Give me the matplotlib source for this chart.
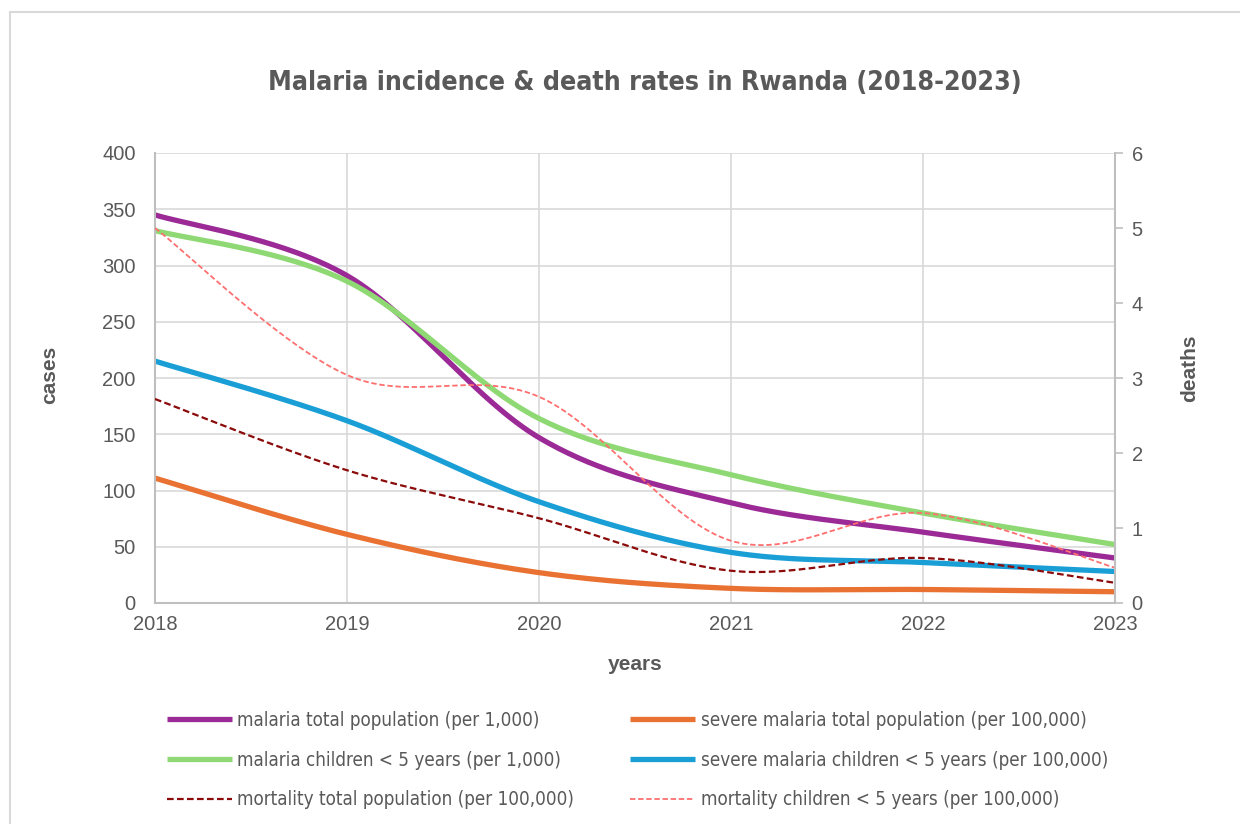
import numpy as np
import matplotlib
matplotlib.use("Agg")
import matplotlib.pyplot as plt
from matplotlib.patches import Rectangle
from matplotlib import font_manager as fm

years = [2018, 2019, 2020, 2021, 2022, 2023]
malaria_total = [345, 291, 147, 89, 63, 40]
malaria_children = [331, 286, 164, 114, 80, 52]
severe_total = [111, 61, 27, 13, 12, 10]
severe_children = [215, 162, 90, 45, 36, 28]
mortality_total = [2.72, 1.77, 1.13, 0.43, 0.60, 0.27]
mortality_children = [5.0, 3.04, 2.75, 0.83, 1.20, 0.47]

labels = [
    "malaria total population (per 1,000)",
    "malaria children < 5 years (per 1,000)",
    "mortality total population (per 100,000)",
    "severe malaria total population (per 100,000)",
    "severe malaria children < 5 years (per 100,000)",
    "mortality children < 5 years (per 100,000)",
]

C_PURPLE = "#9B2A96"
C_GREEN = "#8ED973"
C_ORANGE = "#E97132"
C_BLUE = "#1A9ED6"
C_DRED = "#8B0A0A"
C_LRED = "#FF6F6F"
TXT = "#595959"


def smooth(x, y, n=60):
    """Excel-like smoothed line: cubic Bezier segments with Catmull-Rom control points."""
    x = np.asarray(x, float)
    y = np.asarray(y, float)
    px = np.concatenate([[x[0]], x, [x[-1]]])
    py = np.concatenate([[y[0]], y, [y[-1]]])
    xs, ys = [], []
    t = np.linspace(0, 1, n)
    for i in range(1, len(px) - 2):
        p0 = np.array([px[i], py[i]])
        p3 = np.array([px[i + 1], py[i + 1]])
        c1 = p0 + (np.array([px[i + 1], py[i + 1]]) - np.array([px[i - 1], py[i - 1]])) / 6
        c2 = p3 - (np.array([px[i + 2], py[i + 2]]) - np.array([px[i], py[i]])) / 6
        b = ((1 - t) ** 3)[:, None] * p0 + (3 * (1 - t) ** 2 * t)[:, None] * c1 \
            + (3 * (1 - t) * t ** 2)[:, None] * c2 + (t ** 3)[:, None] * p3
        xs.append(b[:, 0])
        ys.append(b[:, 1])
    return np.concatenate(xs), np.concatenate(ys)


fig = plt.figure(figsize=(12.4, 8.24), dpi=100)
fig.patches.append(Rectangle((10 / 1240, -0.1), 1.2, 1 - 12 / 824 + 0.1,
                             transform=fig.transFigure, fill=False,
                             edgecolor="#D9D9D9", linewidth=1.5, zorder=0))

ax = fig.add_axes([155 / 1240, 1 - 603 / 824, (1115 - 155) / 1240, (603 - 153) / 824])
ax2 = ax.twinx()

lw = 3.8
h1, = ax.plot(*smooth(years, malaria_total), color=C_PURPLE, lw=lw, solid_capstyle="butt")
h2, = ax.plot(*smooth(years, malaria_children), color=C_GREEN, lw=lw, solid_capstyle="butt")
h4, = ax.plot(*smooth(years, severe_total), color=C_ORANGE, lw=lw, solid_capstyle="butt")
h5, = ax.plot(*smooth(years, severe_children), color=C_BLUE, lw=lw, solid_capstyle="butt")
h3, = ax2.plot(*smooth(years, mortality_total), color=C_DRED, lw=1.6, ls=(0, (3, 1.5)))
h6, = ax2.plot(*smooth(years, mortality_children), color=C_LRED, lw=1.3, ls=(0, (3, 1.5)))

ax.set_xlim(2018, 2023)
ax.set_ylim(0, 400)
ax2.set_ylim(0, 6)
ax.set_xticks(years)
ax.set_yticks(range(0, 401, 50))
ax2.set_yticks(range(0, 7))

ax.grid(True, color="#D9D9D9", lw=1.2)
ax.set_axisbelow(True)
ax.spines["top"].set_visible(False)
ax2.spines["top"].set_visible(False)
ax2.spines["left"].set_visible(False)
ax2.spines["bottom"].set_visible(False)
ax.spines["right"].set_visible(False)
ax.spines["left"].set_color("#BFBFBF")
ax.spines["bottom"].set_color("#BFBFBF")
ax2.spines["right"].set_color("#BFBFBF")
for sp in ["left", "bottom"]:
    ax.spines[sp].set_linewidth(1.5)
ax2.spines["right"].set_linewidth(1.5)

ax.tick_params(axis="both", length=0, labelsize=14.5, labelcolor=TXT, pad=9)
ax.tick_params(axis="y", pad=14)
ax2.tick_params(axis="y", length=6, width=1.2, color="#BFBFBF", labelsize=14.5,
                labelcolor=TXT, pad=6)
for lab in ax.get_xticklabels() + ax.get_yticklabels() + ax2.get_yticklabels():
    lab.set_fontfamily("Liberation Sans")

narrow = fm.FontProperties(family="DejaVu Sans", stretch="condensed", weight="bold", size=19.2)
fig.text(645 / 1240, 1 - 83 / 824, "Malaria incidence & death rates in Rwanda (2018-2023)",
         ha="center", va="center", color=TXT, fontproperties=narrow)
fig.text(50 / 1240, 1 - 375 / 824, "cases", rotation=90, ha="center", va="center",
         fontsize=15, fontweight="bold", color=TXT, family="Liberation Sans")
fig.text(1190 / 1240, 1 - 368 / 824, "deaths", rotation=90, ha="center", va="center",
         fontsize=15, fontweight="bold", color=TXT, family="Liberation Sans")
fig.text(635 / 1240, 1 - 665 / 824, "years", ha="center", va="center",
         fontsize=15, fontweight="bold", color=TXT, family="Liberation Sans")

handles = [h1, h2, h3, h4, h5, h6]
leg = fig.legend(handles, labels, ncol=2, loc="upper left",
                 bbox_to_anchor=(150 / 1240, 1 - 694 / 824),
                 frameon=False, handlelength=3.45, handletextpad=0.3,
                 columnspacing=3.0, labelspacing=1.1,
                 prop=fm.FontProperties(family="DejaVu Sans", stretch="condensed", size=13.5))
for t in leg.get_texts():
    t.set_color(TXT)

fig.savefig("out.png", dpi=100)
